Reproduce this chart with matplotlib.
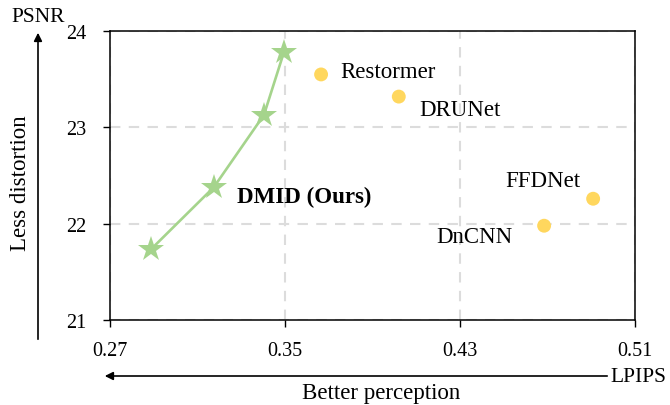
import matplotlib
matplotlib.use("Agg")
import matplotlib.pyplot as plt

plt.rcParams['font.family'] = ['Liberation Serif', 'DejaVu Serif']

# DMID curve (LPIPS, PSNR)
dmid_lpips = [0.289, 0.3175, 0.3404, 0.3495]
dmid_psnr = [21.74, 22.38, 23.13, 23.78]

# other methods
methods = ['Restormer', 'DRUNet', 'FFDNet', 'DnCNN']
other_lpips = [0.3665, 0.402, 0.4908, 0.4684]
other_psnr = [23.55, 23.32, 22.26, 21.98]

xticks = [0.27, 0.35, 0.43, 0.51]
yticks = [21, 22, 23, 24]

green = '#a5d48c'
yellow = '#ffd75e'

fig = plt.figure(figsize=(6.7, 4.06), dpi=100)
ax = fig.add_axes([0.164, 0.209, 0.784, 0.712])

ax.plot(dmid_lpips, dmid_psnr, color=green, lw=1.9, marker='*',
        markersize=19, markeredgewidth=0, zorder=3)
ax.scatter(other_lpips, other_psnr, s=100, color=yellow, edgecolors='none', zorder=3)

# label offsets in points
offsets = {'Restormer': (14, 2, 'left'), 'DRUNet': (15, -9, 'left'),
           'FFDNet': (-9, 13, 'right'), 'DnCNN': (-23, -8, 'right')}
for name, x, y in zip(methods, other_lpips, other_psnr):
    dx, dy, ha = offsets[name]
    ax.annotate(name, (x, y), xytext=(dx, dy), textcoords='offset points',
                ha=ha, va='center', fontsize=16.5)
ax.annotate('DMID (Ours)', (dmid_lpips[1], dmid_psnr[1]), xytext=(16.5, -6.5),
            textcoords='offset points', ha='left', va='center',
            fontsize=16.5, fontweight='bold')

ax.set_xlim(0.27, 0.51)
ax.set_ylim(21, 24)
ax.set_xticks(xticks)
ax.set_yticks(yticks)
ax.set_xticklabels(['%.2f' % v for v in xticks])
ax.tick_params(axis='both', labelsize=14.5, direction='out', length=5, width=1)
ax.tick_params(axis='x', pad=10)
ax.tick_params(axis='y', pad=12)
ax.grid(True, color='#dcdcdc', ls=(0, (5, 4)), lw=1.5)
ax.set_axisbelow(True)
for s in ax.spines.values():
    s.set_linewidth(1.1)

# direction arrows
fig.add_artist(matplotlib.patches.FancyArrowPatch(
    (38 / 670, 1 - 343 / 406), (38 / 670, 1 - 31 / 406), transform=fig.transFigure,
    arrowstyle='-|>', mutation_scale=12, lw=1.2, color='black'))
fig.text(38 / 670, 1 - 18 / 406, 'PSNR', fontsize=15.5, ha='center', va='center')
fig.text(21 / 670, 1 - 183 / 406, 'Less distortion', fontsize=16.5, rotation=90,
         ha='center', va='center')
fig.add_artist(matplotlib.patches.FancyArrowPatch(
    (610 / 670, 1 - 377 / 406), (102 / 670, 1 - 377 / 406), transform=fig.transFigure,
    arrowstyle='-|>', mutation_scale=12, lw=1.2, color='black'))
fig.text(638 / 670, 1 - 378 / 406, 'LPIPS', fontsize=15.5, ha='center', va='center')
fig.text(381 / 670, 1 - 394 / 406, 'Better perception', fontsize=16.5,
         ha='center', va='center')

fig.savefig('out.png', dpi=100)
